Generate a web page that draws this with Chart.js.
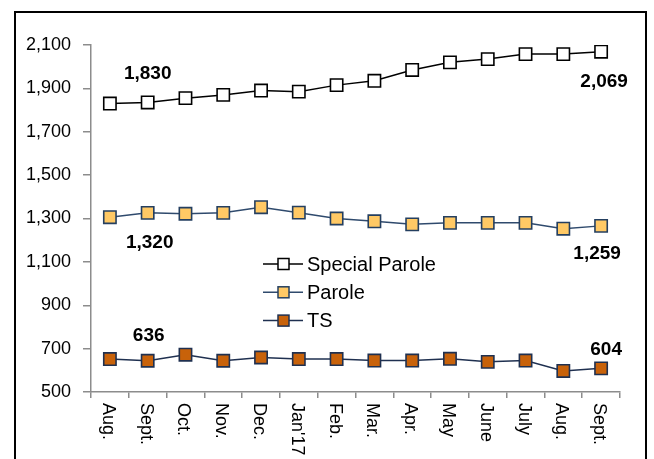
<!DOCTYPE html>
<html>
<head>
<meta charset="utf-8">
<script src="https://cdn.jsdelivr.net/npm/chart.js@4/dist/chart.umd.min.js"></script>
<style>
  html, body { margin: 0; padding: 0; background: #fff; }
  #wrap { position: relative; width: 654px; height: 459px; overflow: hidden; }
  #frame { position: absolute; left: 14px; top: 11px; width: 633px; height: 470px; border: 2px solid #000; box-sizing: border-box; }
  canvas { position: absolute; left: 0; top: 0; }
</style>
</head>
<body>
<div id="wrap">
  <div id="frame"></div>
  <canvas id="c" width="654" height="459"></canvas>
</div>
<script>
const categories = ["Aug.", "Sept.", "Oct.", "Nov.", "Dec.", "Jan'17", "Feb.", "Mar.", "Apr.", "May", "June", "July", "Aug.", "Sept."];
const specialParole = [1830, 1835, 1855, 1870, 1890, 1885, 1915, 1935, 1985, 2020, 2035, 2058, 2058, 2069];
const parole = [1306, 1326, 1322, 1326, 1352, 1327, 1300, 1287, 1273, 1280, 1280, 1280, 1253, 1266];
const ts = [652, 644, 672, 644, 659, 652, 652, 645, 645, 653, 639, 645, 597, 609];
const yTicks = [500, 700, 900, 1100, 1300, 1500, 1700, 1900, 2100];
const seriesNames = ["Special Parole", "Parole", "TS"];
// annotated values: [series index, point index, text, dx, dy]
const annotations = [
  [0, 1, "1,830", 0, -29],
  [0, 13, "2,069", 3, 30],
  [1, 1, "1,320", 2, 30],
  [1, 13, "1,259", -4, 28],
  [2, 1, "636", 1, -25],
  [2, 13, "604", 5, -19]
];

const FONT = "'Liberation Sans', Arial, sans-serif";
const AXIS = '#8c8c8c';

const styles = [
  { line: '#000000', fill: '#ffffff', border: '#000000' },
  { line: '#2f4a6d', fill: '#ffc965', border: '#243f60' },
  { line: '#1f3050', fill: '#c8620a', border: '#1f3050' }
];
const seriesData = [specialParole, parole, ts];

const datasets = seriesData.map((d, i) => ({
  label: seriesNames[i],
  data: d,
  borderColor: styles[i].line,
  borderWidth: 1.5,
  pointStyle: 'rect',
  pointRadius: 8.7,
  pointHoverRadius: 8.7,
  pointBackgroundColor: styles[i].fill,
  pointBorderColor: styles[i].border,
  pointBorderWidth: 1.6,
  tension: 0,
  fill: false
}));

const extras = {
  id: 'extras',
  afterDraw(chart) {
    const ctx = chart.ctx;
    const xs = chart.scales.x;
    // rotated x labels (clockwise)
    ctx.save();
    ctx.fillStyle = '#000';
    ctx.font = '18px ' + FONT;
    ctx.textAlign = 'left';
    ctx.textBaseline = 'middle';
    categories.forEach((c, i) => {
      const x = xs.getPixelForValue(i);
      ctx.save();
      ctx.translate(x - 2, xs.top + 11);
      ctx.rotate(Math.PI / 2);
      ctx.fillText(c, 0, 0);
      ctx.restore();
    });
    ctx.restore();

    // value annotations
    ctx.save();
    ctx.fillStyle = '#000';
    ctx.font = 'bold 19px ' + FONT;
    ctx.textAlign = 'center';
    ctx.textBaseline = 'middle';
    annotations.forEach(([s, p, t, dx, dy]) => {
      const pt = chart.getDatasetMeta(s).data[p];
      ctx.fillText(t, pt.x + dx, pt.y + dy);
    });
    ctx.restore();

    // legend inside plot
    const ca = chart.chartArea;
    const lx = ca.left + 172, ly = ca.top + 219, rowH = 28.3;
    ctx.save();
    ctx.font = '20px ' + FONT;
    ctx.textBaseline = 'middle';
    ctx.textAlign = 'left';
    seriesNames.forEach((n, i) => {
      const y = ly + i * rowH;
      ctx.strokeStyle = styles[i].line;
      ctx.lineWidth = 1.5;
      ctx.beginPath();
      ctx.moveTo(lx, y);
      ctx.lineTo(lx + 40, y);
      ctx.stroke();
      ctx.fillStyle = styles[i].fill;
      ctx.strokeStyle = styles[i].border;
      ctx.lineWidth = 1.5;
      ctx.fillRect(lx + 15, y - 5.5, 11, 11);
      ctx.strokeRect(lx + 15, y - 5.5, 11, 11);
      ctx.fillStyle = '#000';
      ctx.fillText(n, lx + 44, y + 1);
    });
    ctx.restore();
  }
};

new Chart(document.getElementById('c'), {
  type: 'line',
  data: { labels: categories, datasets },
  options: {
    responsive: false,
    animation: false,
    events: [],
    layout: { padding: { left: 0, top: 45, right: 34, bottom: 0 } },
    plugins: { legend: { display: false }, tooltip: { enabled: false } },
    scales: {
      x: {
        type: 'category',
        offset: true,
        grid: { display: true, offset: true, drawOnChartArea: false, drawTicks: true, tickLength: 6, color: AXIS, lineWidth: 1.5 },
        border: { display: true, color: AXIS, width: 1.5 },
        ticks: { display: false },
        afterFit(s) { s.height = 67; }
      },
      y: {
        min: 500,
        max: 2100,
        afterBuildTicks(s) { s.ticks = yTicks.map(v => ({ value: v })); },
        grid: { display: true, drawOnChartArea: false, drawTicks: true, tickLength: 8, color: AXIS, lineWidth: 1.5 },
        border: { display: true, color: AXIS, width: 1.5 },
        ticks: {
          color: '#000',
          padding: 12,
          font: { family: FONT, size: 18 },
          callback: v => v.toLocaleString('en-US')
        },
        afterFit(s) { s.width = 91; }
      }
    }
  },
  plugins: [extras]
});
</script>
</body>
</html>
